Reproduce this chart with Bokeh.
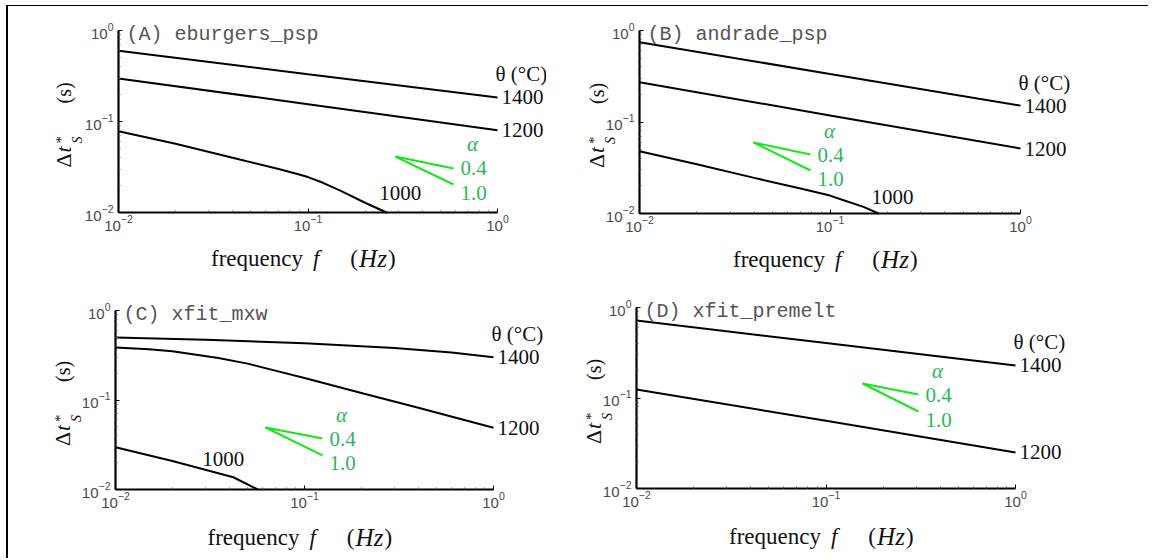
import math
from bokeh.plotting import figure
from bokeh.models import Range1d, Label, FixedTicker, LogTickFormatter
from bokeh.layouts import row, column
from bokeh.embed import file_html
from bokeh.resources import INLINE

# ---------------- data ----------------
# Panel A : eburgers_psp
A_f_1400 = [0.01, 0.1, 1.0]
A_t_1400 = [0.60, 0.33, 0.184]
A_f_1200 = [0.01, 0.1, 1.0]
A_t_1200 = [0.297, 0.155, 0.080]
A_f_1000 = [0.01, 0.02, 0.04, 0.07, 0.085, 0.1, 0.12, 0.15, 0.2, 0.26]
A_t_1000 = [0.078, 0.057, 0.040, 0.030, 0.0270, 0.0245, 0.0212, 0.0172, 0.0128, 0.0100]

# Panel B : andrade_psp
B_f_1400 = [0.01, 0.1, 1.0]
B_t_1400 = [0.745, 0.335, 0.151]
B_f_1200 = [0.01, 0.1, 1.0]
B_t_1200 = [0.272, 0.118, 0.0513]
B_f_1000 = [0.01, 0.02, 0.04, 0.07, 0.1, 0.12, 0.15, 0.18]
B_t_1000 = [0.048, 0.0345, 0.0245, 0.0188, 0.0157, 0.0138, 0.0118, 0.0100]

# Panel C : xfit_mxw
C_f_1400 = [0.01, 0.03, 0.1, 0.3, 0.6, 1.0]
C_t_1400 = [0.50, 0.47, 0.43, 0.38, 0.34, 0.30]
C_f_1200 = [0.01, 0.015, 0.02, 0.035, 0.05, 0.07, 0.1, 0.2, 0.4, 1.0]
C_t_1200 = [0.386, 0.368, 0.35, 0.295, 0.255, 0.213, 0.176, 0.12, 0.082, 0.049]
C_f_1000 = [0.01, 0.02, 0.042, 0.0565]
C_t_1000 = [0.0297, 0.0208, 0.0137, 0.0100]

# Panel D : xfit_premelt
D_f_1400 = [0.01, 0.1, 1.0]
D_t_1400 = [0.718, 0.405, 0.229]
D_f_1200 = [0.01, 0.1, 1.0]
D_t_1200 = [0.124, 0.056, 0.025]

# slope indicators (alpha = 0.4 and 1.0): apex and the two end points
A_slope_f = [0.289, 0.586]; A_slope_04 = [0.0412, 0.0305]; A_slope_10 = [0.0412, 0.0203]
B_slope_f = [0.0397, 0.0790]; B_slope_04 = [0.0597, 0.0441]; B_slope_10 = [0.0597, 0.0295]
C_slope_f = [0.0622, 0.1245]; C_slope_04 = [0.0493, 0.0371]; C_slope_10 = [0.0493, 0.0240]
D_slope_f = [0.1558, 0.3076]; D_slope_04 = [0.1446, 0.1093]; D_slope_10 = [0.1446, 0.0709]

# "1000" label positions (f, dt)
A_lab1000 = (0.307, 0.0162)
B_lab1000 = (0.213, 0.0150)
C_lab1000 = (0.0372, 0.0222)

titles = ["(A) eburgers_psp", "(B) andrade_psp", "(C) xfit_mxw", "(D) xfit_premelt"]
temp_header = "θ (°C)"
alpha_labels = ["0.4", "1.0"]
major_ticks = [0.01, 0.1, 1.0]

SERIF = "Liberation Serif"
GREEN_LINE = "#19e619"
GREEN_TEXT = "#2db55d"

minor_ticks = [m * d for d in (0.01, 0.1) for m in range(2, 10)]

# page geometry: content origin (after root margin + border)
OX, OY = 8, 6
COL_W = [538, 602]
ROW_H = [276, 276]


def lab(p, x, y, text, size, color="#111111", font=SERIF, style="normal",
        align="left", baseline="middle", xo=0, yo=0, angle=0.0):
    p.add_layout(Label(x=x, y=y, text=text, text_font=font,
                       text_font_size=f"{size}px", text_color=color,
                       text_font_style=style, text_align=align,
                       text_baseline=baseline, x_offset=xo, y_offset=yo,
                       angle=angle))


def panel(title, curves, temps, lab1000, slope_f, s04, s10, col, rw, axis_px,
          ylab_xo, xl_yo):
    # axis_px: page pixels of f=0.01, f=1, dt=1 (top), dt=0.01 (bottom)
    x0, x1, y1, y0 = axis_px
    w, h = COL_W[col], ROW_H[rw]
    fx0 = OX + sum(COL_W[:col])
    fy0 = OY + sum(ROW_H[:rw])
    dx = (x1 - x0) / 2.0
    dy = (y0 - y1) / 2.0
    xs = 10 ** (-2 - (x0 - fx0) / dx)
    xe = 10 ** (-2 + (fx0 + w - x0) / dx)
    ye = 10 ** ((y1 - fy0) / dy)
    ys = 10 ** (-2 - (fy0 + h - y0) / dy)

    p = figure(width=w, height=h, x_axis_type="log", y_axis_type="log",
               x_range=Range1d(xs, xe), y_range=Range1d(ys, ye),
               output_backend="svg", toolbar_location=None, title=None,
               min_border=0, min_border_left=0, min_border_right=0,
               min_border_top=0, min_border_bottom=0)
    p.outline_line_color = None
    p.xgrid.visible = False
    p.ygrid.visible = False
    p.background_fill_color = None
    p.border_fill_color = None
    for ax in (p.xaxis[0], p.yaxis[0]):
        ax.fixed_location = 0.01
        ax.bounds = (0.01, 1.0)
        ax.ticker = FixedTicker(ticks=major_ticks, minor_ticks=minor_ticks)
        ax.formatter = LogTickFormatter()
        ax.axis_line_width = 2.2
        ax.axis_line_color = "black"
        ax.major_tick_in = 4
        ax.major_tick_out = 0
        ax.minor_tick_in = 2
        ax.minor_tick_out = 0
        ax.major_tick_line_color = "black"
        ax.major_tick_line_width = 1
        ax.minor_tick_line_color = "#555555"
        ax.major_label_text_font = "Liberation Sans"
        ax.major_label_text_font_size = "15px"
        ax.major_label_text_color = "#4a4a4a"
    p.xaxis[0].major_label_standoff = 2
    p.yaxis[0].major_label_standoff = 5

    for (fx, ty) in curves:
        p.line(fx, ty, line_color="black", line_width=2)

    # temperature labels at the right end of the curves
    for (fx, ty), t in zip(curves, temps):
        if t == "1000":
            continue
        lab(p, fx[-1], ty[-1], t, 21, xo=4)
    fx, ty = curves[0]
    lab(p, fx[-1], ty[-1], temp_header, 21, xo=-2, yo=23)
    if lab1000 is not None:
        lab(p, lab1000[0], lab1000[1], "1000", 21, align="center")

    # slope indicator
    p.line(slope_f, s04, line_color=GREEN_LINE, line_width=2)
    p.line(slope_f, s10, line_color=GREEN_LINE, line_width=2)
    lab(p, slope_f[1], s04[1], alpha_labels[0], 21, color=GREEN_TEXT, xo=7)
    lab(p, slope_f[1], s10[1], alpha_labels[1], 21, color=GREEN_TEXT, xo=7, yo=-8)
    lab(p, slope_f[1], s04[1], "α", 21, color=GREEN_TEXT, style="italic",
        align="center", xo=19, yo=24)

    # title
    lab(p, 0.01, 1.0, title, 20, color="#555555", font="Liberation Mono",
        baseline="alphabetic", xo=8, yo=-4)

    # x axis label
    lab(p, 0.1, 0.01, "frequency", 23, baseline="alphabetic", xo=-97, yo=xl_yo)
    lab(p, 0.1, 0.01, "f", 23, style="italic", baseline="alphabetic", xo=5, yo=xl_yo)
    lab(p, 0.1, 0.01, "(", 23, align="right", baseline="alphabetic", xo=50, yo=xl_yo)
    lab(p, 0.1, 0.01, "Hz", 25, style="italic", align="center", baseline="alphabetic", xo=65, yo=xl_yo)
    lab(p, 0.1, 0.01, ")", 23, baseline="alphabetic", xo=80, yo=xl_yo)

    # y axis label (rotated)
    rot = math.pi / 2
    lab(p, 0.01, 0.1, "Δ", 22, baseline="alphabetic", xo=ylab_xo, yo=-46, angle=rot)
    lab(p, 0.01, 0.1, "t", 22, style="italic", baseline="alphabetic", xo=ylab_xo, yo=-31, angle=rot)
    lab(p, 0.01, 0.1, "*", 15, baseline="alphabetic", xo=ylab_xo - 3, yo=-22, angle=rot)
    lab(p, 0.01, 0.1, "S", 14, style="italic", baseline="alphabetic", xo=ylab_xo + 14, yo=-22, angle=rot)
    lab(p, 0.01, 0.1, "(s)", 20, baseline="alphabetic", xo=ylab_xo, yo=18, angle=rot)
    return p


pA = panel(titles[0],
           [(A_f_1400, A_t_1400), (A_f_1200, A_t_1200), (A_f_1000, A_t_1000)],
           ["1400", "1200", "1000"], A_lab1000, A_slope_f, A_slope_04, A_slope_10,
           0, 0, (118, 497, 30, 212), -55, -46)
pB = panel(titles[1],
           [(B_f_1400, B_t_1400), (B_f_1200, B_t_1200), (B_f_1000, B_t_1000)],
           ["1400", "1200", "1000"], B_lab1000, B_slope_f, B_slope_04, B_slope_10,
           1, 0, (639, 1020, 30, 213), -43, -46)
pC = panel(titles[2],
           [(C_f_1400, C_t_1400), (C_f_1200, C_t_1200), (C_f_1000, C_t_1000)],
           ["1400", "1200", "1000"], C_lab1000, C_slope_f, C_slope_04, C_slope_10,
           0, 1, (115, 493, 310, 489), -53, -48)
pD = panel(titles[3],
           [(D_f_1400, D_t_1400), (D_f_1200, D_t_1200)],
           ["1400", "1200"], None, D_slope_f, D_slope_04, D_slope_10,
           1, 1, (636, 1015, 307, 488), -43, -48)

root = column(row(pA, pB), row(pC, pD),
              styles={"border-left": "2px solid black", "border-top": "1px solid black",
                      "margin-left": "6px", "margin-top": "5px"})

open("out.html", "w").write(file_html(root, INLINE))
